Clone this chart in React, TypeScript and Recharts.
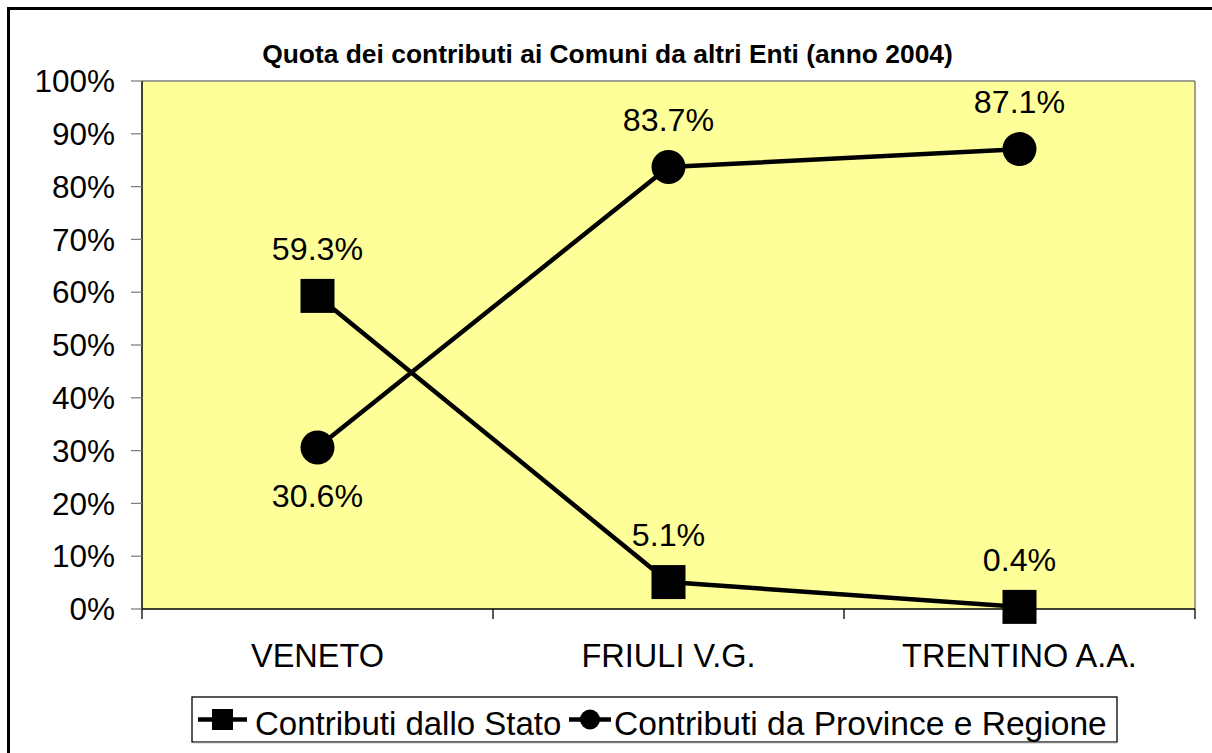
import React from 'react';
import { LineChart, Line, XAxis, YAxis, CartesianGrid, ReferenceLine, LabelList } from 'recharts';

const title = 'Quota dei contributi ai Comuni da altri Enti (anno 2004)';
const categories = ['VENETO', 'FRIULI V.G.', 'TRENTINO A.A.'];
const statoValues = [59.3, 5.1, 0.4];
const provinceValues = [30.6, 83.7, 87.1];
const seriesNames = ['Contributi dallo Stato', 'Contributi da Province e Regione'];
const yTicks = [0, 10, 20, 30, 40, 50, 60, 70, 80, 90, 100];
const statoLabelPlacement = ['top', 'top', 'top'];
const provinceLabelPlacement = ['bottom', 'top', 'top'];

const data = categories.map((c, i) => ({
  category: c,
  pos: i + 0.5,
  stato: statoValues[i],
  province: provinceValues[i],
}));
const xTicks: number[] = [];
for (let i = 0; i <= categories.length; i++) {
  xTicks.push(i);
  if (i < categories.length) xTicks.push(i + 0.5);
}

const W = 1212;
const H = 753;
const FONT = '"Liberation Sans", Arial, Helvetica, sans-serif';

function XTick(props: any) {
  const { x, y, payload } = props;
  const v = Number(payload.value);
  if (Number.isInteger(v)) {
    return <line x1={x} y1={y} x2={x} y2={y + 10} stroke="#000" strokeWidth={1.3} />;
  }
  const idx = Math.floor(v);
  return (
    <text x={x} y={y + 58} textAnchor="middle" fontSize={32.5} fontFamily={FONT} fill="#000">
      {categories[idx]}
    </text>
  );
}

const squareDot = (p: any) => (
  <rect key={`sq-${p.index}`} x={p.cx - 17} y={p.cy - 17} width={34} height={34} fill="#000" />
);
const circleDot = (p: any) => <circle key={`ci-${p.index}`} cx={p.cx} cy={p.cy} r={17} fill="#000" />;

const makeLabel = (placement: string[]) => (p: any) => {
  const x = p.x ?? p.viewBox?.x;
  const y = p.y ?? p.viewBox?.y;
  const idx = p.index ?? 0;
  const below = placement[idx] === 'bottom';
  return (
    <text
      key={`lb-${idx}`}
      x={x}
      y={below ? y + 60 : y - 36}
      textAnchor="middle"
      fontSize={32.2}
      fontFamily={FONT}
      fill="#000"
    >
      {`${Number(p.value).toFixed(1)}%`}
    </text>
  );
};

export default function App() {
  return (
    <div style={{ position: 'fixed', left: 0, top: 0, width: W, height: H, background: '#fff', overflow: 'hidden' }}>
      <LineChart width={W} height={H} data={data} margin={{ top: 81, right: 17, bottom: 84, left: 12 }}>
        <CartesianGrid horizontal={false} vertical={false} fill="#FFFF99" />
        <XAxis
          dataKey="pos"
          type="number"
          domain={[0, categories.length]}
          ticks={xTicks}
          interval={0}
          tick={<XTick />}
          tickLine={false}
          tickSize={0}
          tickMargin={0}
          height={60}
          axisLine={{ stroke: '#000', strokeWidth: 1.5 }}
        />
        <YAxis
          type="number"
          domain={[0, 100]}
          ticks={yTicks}
          interval={0}
          width={130}
          tickSize={11}
          tickMargin={16}
          tickFormatter={(v: number) => `${v}%`}
          tick={{ fontSize: 31.5, fill: '#000', fontFamily: FONT }}
          tickLine={{ stroke: '#808080', strokeWidth: 1.3 }}
          axisLine={{ stroke: '#000', strokeWidth: 1.5 }}
        />
        <ReferenceLine y={100} stroke="#808080" strokeWidth={1.5} />
        <ReferenceLine x={categories.length} stroke="#808080" strokeWidth={1.5} />
        <Line
          type="linear"
          dataKey="stato"
          name={seriesNames[0]}
          stroke="#000"
          strokeWidth={4.5}
          dot={squareDot}
          activeDot={false}
          isAnimationActive={false}
        >
          <LabelList dataKey="stato" content={makeLabel(statoLabelPlacement)} />
        </Line>
        <Line
          type="linear"
          dataKey="province"
          name={seriesNames[1]}
          stroke="#000"
          strokeWidth={4.5}
          dot={circleDot}
          activeDot={false}
          isAnimationActive={false}
        >
          <LabelList dataKey="province" content={makeLabel(provinceLabelPlacement)} />
        </Line>
      </LineChart>
      <svg
        width={W}
        height={H}
        style={{ position: 'absolute', left: 0, top: 0, pointerEvents: 'none' }}
      >
        <rect x={8.5} y={8.5} width={1220} height={760} fill="none" stroke="#000" strokeWidth={3} />
        <text x={607.5} y={63} textAnchor="middle" fontSize={26.4} fontWeight="bold" fontFamily={FONT} fill="#000">
          {title}
        </text>
        <rect x={192} y={697} width={925} height={45} fill="#fff" stroke="#000" strokeWidth={1.3} />
        <line x1={193} y1={742.5} x2={1117} y2={742.5} stroke="#808080" strokeWidth={1.5} />
        <line x1={198} y1={719.5} x2={247} y2={719.5} stroke="#000" strokeWidth={4.5} />
        <rect x={212} y={709} width={21} height={21} fill="#000" />
        <text x={255} y={735} fontSize={33} fontFamily={FONT} fill="#000">
          {seriesNames[0]}
        </text>
        <line x1={569} y1={719.5} x2={611} y2={719.5} stroke="#000" strokeWidth={4.5} />
        <circle cx={590} cy={719.5} r={10} fill="#000" />
        <text x={614} y={735} fontSize={33.6} fontFamily={FONT} fill="#000">
          {seriesNames[1]}
        </text>
      </svg>
    </div>
  );
}
